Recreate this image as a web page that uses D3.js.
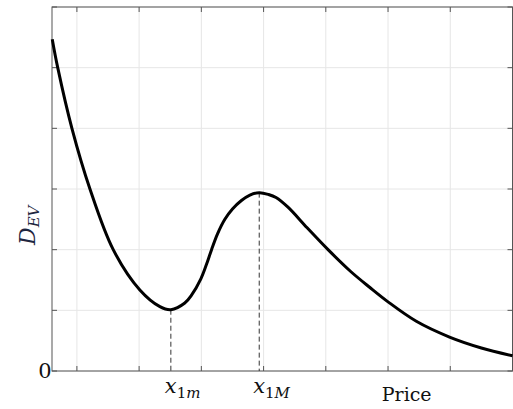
<!DOCTYPE html>
<html lang="en">
<head>
  <meta charset="utf-8">
  <script src="https://d3js.org/d3.v7.min.js"></script>
  <style>
    body { margin: 0; background: #fff; }
    svg { display: block; }
  </style>
</head>
<body>
<svg width="513" height="409" font-family="'DejaVu Serif', 'Liberation Serif', serif"></svg>
<script>
  // demand curve
  var price = [0.302, 0.346, 0.46, 0.605, 0.792, 1.006, 1.167, 1.255, 1.367, 1.421, 1.496,
               1.54, 1.582, 1.63, 1.689, 1.75, 1.822, 1.89, 1.965, 2.04, 2.10, 2.196,
               2.35, 2.518, 2.70, 2.852, 3.0, 3.227, 3.494, 3.75, 4.0];
  var dev = [5.47, 5.00, 4.00, 3.00, 2.00, 1.335, 1.06, 1.01, 1.12, 1.25, 1.52,
             1.75, 2.00, 2.26, 2.50, 2.67, 2.81, 2.90, 2.94, 2.91, 2.86, 2.70,
             2.36, 2.00, 1.64, 1.38, 1.14, 0.82, 0.56, 0.38, 0.25];
  var xTicks = [0.5, 1, 1.5, 2, 2.5, 3, 3.5, 4];
  var yTicks = [0, 1, 2, 3, 4, 5, 6];
  var markers = [{x: 1.255, y: 1.01, name: "x", sub: "1", subItalic: "m"},
                 {x: 1.965, y: 2.94, name: "x", sub: "1", subItalic: "M"}];

  var svg = d3.select("svg"),
      margin = {top: 7, right: 0.5, bottom: 38, left: 52},
      width = +svg.attr("width") - margin.left - margin.right,
      height = +svg.attr("height") - margin.top - margin.bottom;

  var g = svg.append("g")
      .attr("transform", "translate(" + margin.left + "," + margin.top + ")");

  var x = d3.scaleLinear().domain([0.3, 4.0]).range([0, width]);
  var y = d3.scaleLinear().domain([0, 6]).range([height, 0]);

  // grid
  g.selectAll(".vgrid").data(xTicks).enter().append("line")
      .attr("x1", function(d) { return x(d); }).attr("x2", function(d) { return x(d); })
      .attr("y1", 0).attr("y2", height)
      .attr("stroke", "#e6e6e6").attr("stroke-width", 1);
  g.selectAll(".hgrid").data(yTicks).enter().append("line")
      .attr("y1", function(d) { return y(d); }).attr("y2", function(d) { return y(d); })
      .attr("x1", 0).attr("x2", width)
      .attr("stroke", "#e6e6e6").attr("stroke-width", 1);

  // inward ticks on all four sides
  var tk = 5, axisColor = "#555";
  g.selectAll(".xtb").data(xTicks).enter().append("line")
      .attr("x1", function(d) { return x(d); }).attr("x2", function(d) { return x(d); })
      .attr("y1", height).attr("y2", height - tk).attr("stroke", axisColor);
  g.selectAll(".xtt").data(xTicks).enter().append("line")
      .attr("x1", function(d) { return x(d); }).attr("x2", function(d) { return x(d); })
      .attr("y1", 0).attr("y2", tk).attr("stroke", axisColor);
  g.selectAll(".ytl").data(yTicks).enter().append("line")
      .attr("y1", function(d) { return y(d); }).attr("y2", function(d) { return y(d); })
      .attr("x1", 0).attr("x2", tk).attr("stroke", axisColor);
  g.selectAll(".ytr").data(yTicks).enter().append("line")
      .attr("y1", function(d) { return y(d); }).attr("y2", function(d) { return y(d); })
      .attr("x1", width).attr("x2", width - tk).attr("stroke", axisColor);

  g.append("rect")
      .attr("x", 0).attr("y", 0).attr("width", width).attr("height", height)
      .attr("fill", "none").attr("stroke", axisColor).attr("stroke-width", 1);

  // dashed drop lines
  g.selectAll(".drop").data(markers).enter().append("line")
      .attr("x1", function(d) { return x(d.x); }).attr("x2", function(d) { return x(d.x); })
      .attr("y1", function(d) { return y(d.y); }).attr("y2", height)
      .attr("stroke", "#333").attr("stroke-width", 1)
      .attr("stroke-dasharray", "5,3");

  // curve
  var pts = price.map(function(p, i) { return [p, dev[i]]; });
  var line = d3.line()
      .x(function(d) { return x(d[0]); })
      .y(function(d) { return y(d[1]); })
      .curve(d3.curveCatmullRom.alpha(0.5));
  g.append("path")
      .datum(pts)
      .attr("d", line)
      .attr("fill", "none")
      .attr("stroke", "#000")
      .attr("stroke-width", 3)
      .attr("stroke-linejoin", "round");

  // x labels for the two extrema
  var lab = g.selectAll(".mlab").data(markers).enter().append("text")
      .attr("x", function(d) { return x(d.x) - 6; })
      .attr("y", height + 22)
      .attr("font-size", "21px")
      .attr("fill", "#111");
  lab.append("tspan").attr("font-style", "italic").text(function(d) { return d.name; });
  lab.append("tspan").attr("font-size", "15px").attr("dy", 5)
      .text(function(d) { return d.sub; });
  lab.append("tspan").attr("font-size", "15px").attr("font-style", "italic")
      .text(function(d) { return d.subItalic; });

  g.append("text")
      .attr("x", x(3.15))
      .attr("y", height + 30)
      .attr("text-anchor", "middle")
      .attr("font-size", "19px")
      .attr("fill", "#111")
      .text("Price");

  g.append("text")
      .attr("x", -7)
      .attr("y", y(0) + 7)
      .attr("text-anchor", "middle")
      .attr("font-size", "21px")
      .attr("fill", "#111")
      .text("0");

  var ylab = svg.append("text")
      .attr("transform", "translate(35,245) rotate(-90)")
      .attr("font-size", "22px")
      .attr("fill", "#1e2640");
  ylab.append("tspan").attr("font-style", "italic").text("D");
  ylab.append("tspan").attr("font-style", "italic").attr("font-size", "15px").attr("dy", 4).text("EV");
</script>
</body>
</html>
